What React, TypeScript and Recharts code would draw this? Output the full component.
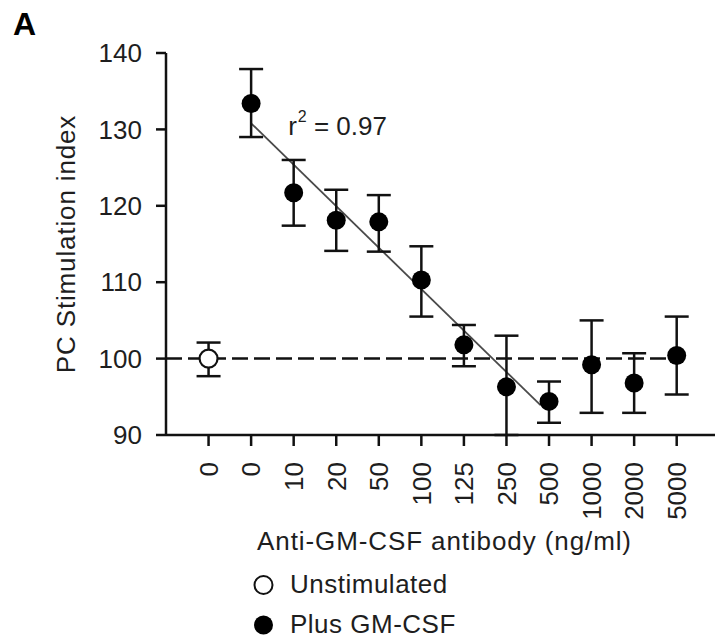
import React from 'react';
import { ScatterChart, Scatter, XAxis, YAxis, ErrorBar, ReferenceLine, ReferenceDot } from 'recharts';

// ---- data ----
const categories = ['0', '0', '10', '20', '50', '100', '125', '250', '500', '1000', '2000', '5000'];
const yTicks = [90, 100, 110, 120, 130, 140];

const unstimMean = [100];
const unstimLow = [97.7];
const unstimHigh = [102.1];

const gmMean = [133.4, 121.7, 118.1, 117.9, 110.3, 101.8, 96.3, 94.4, 99.2, 96.8, 100.4];
const gmLow = [129.0, 117.4, 114.1, 114.0, 105.5, 99.0, 90.0, 91.6, 92.9, 92.9, 95.3];
const gmHigh = [137.9, 126.0, 122.1, 121.4, 114.7, 104.4, 103.0, 97.0, 105.0, 100.7, 105.5];

const fitX = [1, 7.8];
const fitY = [130.8, 93.9];
const baselineValue = 100;
const baselineX = [-1, 11];
const r2Pos = [1.87, 129.3];
const r2Text = ['r', '2', ' = 0.97'];

const legendItems = [
  { label: 'Unstimulated', filled: false },
  { label: 'Plus GM-CSF', filled: true },
];

const panelLabel = 'A';
const xTitle = 'Anti-GM-CSF antibody (ng/ml)';
const yTitle = 'PC Stimulation index';

const unstimData = unstimMean.map((v, i) => ({ x: i, y: v, err: [v - unstimLow[i], unstimHigh[i] - v] }));
const gmData = gmMean.map((v, i) => ({ x: i + 1, y: v, err: [v - gmLow[i], gmHigh[i] - v] }));

const FONT = 'Liberation Sans, Arial, Helvetica, sans-serif';
const TEXT = '#1e1e1e';
const INK = '#111';

const XTick = (props: any) => {
  const { x, y, payload } = props;
  return (
    <text
      transform={`translate(${x + 9.3},${y + 16}) rotate(-90)`}
      textAnchor="end"
      fontSize={26}
      fontFamily={FONT}
      fill={TEXT}
    >
      {categories[payload.value]}
    </text>
  );
};

const XLabel = (props: any) => {
  const vb = props.viewBox || { x: 166, y: 435, width: 549, height: 130 };
  return (
    <text
      x={vb.x + vb.width / 2 + 4}
      y={vb.y + 115}
      textAnchor="middle"
      fontSize={26}
      letterSpacing={0.9}
      fontFamily={FONT}
      fill={TEXT}
    >
      {xTitle}
    </text>
  );
};

const YLabel = (props: any) => {
  const vb = props.viewBox || { x: 0, y: 53, width: 166, height: 382 };
  const cx = vb.x + 75;
  const cy = vb.y + vb.height / 2;
  return (
    <text
      transform={`translate(${cx},${cy}) rotate(-90)`}
      textAnchor="middle"
      fontSize={26}
      letterSpacing={0.85}
      fontFamily={FONT}
      fill={TEXT}
    >
      {yTitle}
    </text>
  );
};

const OpenDot = (p: any) => (
  <circle cx={p.cx} cy={p.cy} r={9} fill="#fff" stroke={INK} strokeWidth={2.2} />
);
const FilledDot = (p: any) => <circle cx={p.cx} cy={p.cy} r={9.5} fill="#000" stroke="none" />;

const R2Shape = (p: any) => (
  <text x={p.cx} y={p.cy} fontSize={26} fontFamily={FONT} fill={TEXT}>
    {r2Text[0]}
    <tspan dx={1} dy={-13} fontSize={16}>{r2Text[1]}</tspan>
    <tspan dy={13} fontSize={26}>{r2Text[2]}</tspan>
  </text>
);

export default function App() {
  return (
    <div style={{ position: 'absolute', left: 0, top: 0, width: 715, height: 640, background: '#fff' }}>
      <ScatterChart
        width={715}
        height={640}
        margin={{ top: 53, right: 0, bottom: 75, left: 0 }}
        style={{ fontFamily: FONT }}
      >
        <XAxis
          type="number"
          dataKey="x"
          domain={[-1, 11.9]}
          ticks={categories.map((_, i) => i)}
          interval={0}
          tick={<XTick />}
          tickSize={11}
          tickMargin={0}
          height={130}
          stroke={INK}
          strokeWidth={2.5}
          tickLine={{ stroke: INK, strokeWidth: 2.5 }}
          axisLine={{ stroke: INK, strokeWidth: 2.5 }}
          label={<XLabel />}
        />
        <YAxis
          type="number"
          dataKey="y"
          domain={[90, 140]}
          ticks={yTicks}
          interval={0}
          width={166}
          tickSize={10}
          tickMargin={14}
          tick={{ fontSize: 26, fill: TEXT, fontFamily: FONT }}
          tickLine={{ stroke: INK, strokeWidth: 2.5 }}
          axisLine={{ stroke: INK, strokeWidth: 2.5 }}
          label={<YLabel />}
        />
        <ReferenceLine
          segment={[
            { x: baselineX[0], y: baselineValue },
            { x: baselineX[1], y: baselineValue },
          ]}
          stroke={INK}
          strokeWidth={2.5}
          strokeDasharray="16 6"
          ifOverflow="visible"
        />
        <ReferenceLine
          segment={[
            { x: fitX[0], y: fitY[0] },
            { x: fitX[1], y: fitY[1] },
          ]}
          stroke="#4a4a4a"
          strokeWidth={1.8}
          ifOverflow="visible"
        />
        <Scatter data={unstimData} shape={<OpenDot />} isAnimationActive={false}>
          <ErrorBar dataKey="err" direction="y" width={12} stroke={INK} strokeWidth={2.5} />
        </Scatter>
        <Scatter data={gmData} shape={<FilledDot />} isAnimationActive={false}>
          <ErrorBar dataKey="err" direction="y" width={12} stroke={INK} strokeWidth={2.5} />
        </Scatter>
        <ReferenceDot x={r2Pos[0]} y={r2Pos[1]} r={0} ifOverflow="visible" shape={<R2Shape />} />
      </ScatterChart>
      <svg
        width={715}
        height={640}
        style={{ position: 'absolute', left: 0, top: 0, pointerEvents: 'none' }}
      >
        <text x={13} y={35} fontSize={32} fontWeight="bold" fontFamily={FONT} fill="#000">
          {panelLabel}
        </text>
        {legendItems.map((item, i) => (
          <g key={item.label}>
            <circle
              cx={263.5}
              cy={585 + i * 40}
              r={item.filled ? 9.5 : 9}
              fill={item.filled ? '#000' : '#fff'}
              stroke={item.filled ? 'none' : INK}
              strokeWidth={2}
            />
            <text x={290} y={593 + i * 40} fontSize={26} letterSpacing={0.5} fontFamily={FONT} fill={TEXT}>
              {item.label}
            </text>
          </g>
        ))}
      </svg>
    </div>
  );
}
